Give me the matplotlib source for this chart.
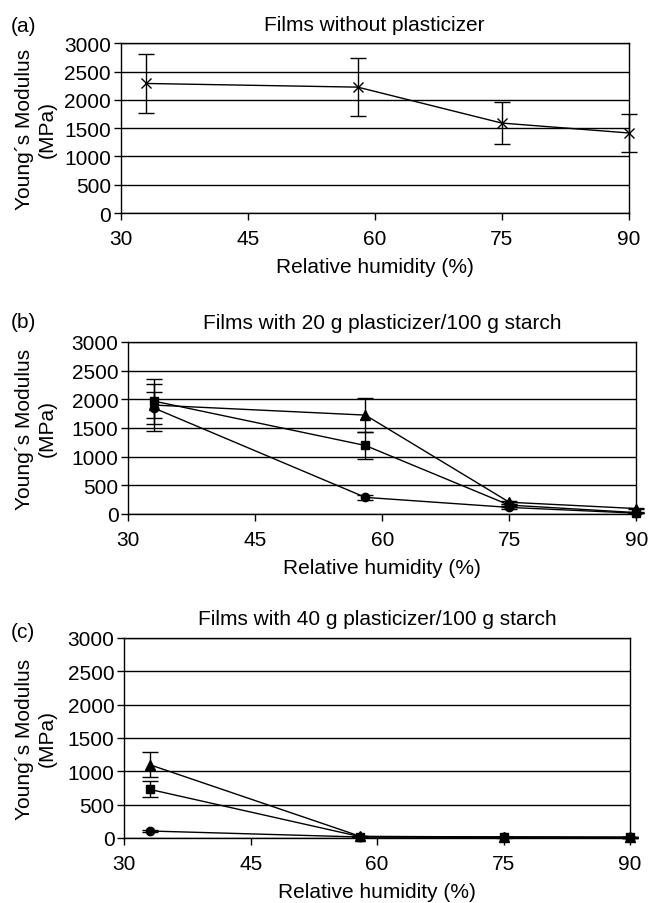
import matplotlib
matplotlib.use('Agg')
import matplotlib.pyplot as plt

plt.rcParams['font.family'] = ['Liberation Sans', 'DejaVu Sans']

rh = [33, 58, 75, 90]
xticks = [30, 45, 60, 75, 90]
yticks = [0, 500, 1000, 1500, 2000, 2500, 3000]

# (a) films without plasticizer
a_val = [2290, 2225, 1590, 1415]
a_err = [525, 515, 370, 330]

# (b) 20 g plasticizer / 100 g starch
b_circle = [1850, 290, 115, 15]
b_circle_err = [280, 45, 20, 5]
b_square = [1970, 1195, 155, 25]
b_square_err = [290, 240, 25, 5]
b_triangle = [1900, 1725, 205, 95]
b_triangle_err = [460, 300, 30, 10]

# (c) 40 g plasticizer / 100 g starch
c_circle = [105, 15, 10, 10]
c_circle_err = [15, 5, 5, 5]
c_square = [730, 20, 15, 10]
c_square_err = [120, 5, 5, 5]
c_triangle = [1100, 25, 15, 10]
c_triangle_err = [190, 5, 5, 5]

W, H = 650, 904
FS = 15
fig = plt.figure(figsize=(W / 100, H / 100), dpi=100)


def make_axes(l, r, t, b):
    return fig.add_axes([l / W, 1 - b / H, (r - l) / W, (b - t) / H])


def style(ax, title, ttl_y, ylab_x):
    ax.set_xlim(30, 90)
    ax.set_ylim(0, 3000)
    ax.set_xticks(xticks)
    ax.set_yticks(yticks)
    ax.yaxis.grid(True, color='black', linewidth=1)
    ax.set_axisbelow(True)
    for s in ax.spines.values():
        s.set_linewidth(1)
        s.set_color('black')
    ax.tick_params(axis='both', direction='out', length=5, width=1,
                   labelsize=FS)
    ax.tick_params(axis='x', pad=6.3)
    ax.tick_params(axis='y', pad=2)
    ax.set_xlabel('Relative humidity (%)', fontsize=FS, labelpad=6.5)
    ax.text(0.5, ttl_y, title, transform=ax.transAxes, ha='center',
            va='center', fontsize=FS)
    ax.text(ylab_x, 0.5, 'Young\u00b4s Modulus\n(MPa)', transform=ax.transAxes,
            rotation=90, ha='center', va='center', multialignment='center',
            fontsize=FS, linespacing=1.2)


def series(ax, y, err, marker, ms):
    ax.errorbar(rh, y, yerr=err, color='black', linewidth=1, marker=marker,
                markersize=ms, mew=1, ecolor='black', elinewidth=1,
                capsize=6, capthick=1, zorder=3, clip_on=False)


ax1 = make_axes(120.7, 628.7, 44.3, 214)
style(ax1, 'Films without plasticizer', 1.112, -0.167)
series(ax1, a_val, a_err, 'x', 7)

ax2 = make_axes(128.3, 636.3, 343, 515)
style(ax2, 'Films with 20 g plasticizer/100 g starch', 1.116, -0.182)
series(ax2, b_circle, b_circle_err, 'o', 6)
series(ax2, b_square, b_square_err, 's', 6)
series(ax2, b_triangle, b_triangle_err, '^', 7)

ax3 = make_axes(124.3, 630, 639, 839)
style(ax3, 'Films with 40 g plasticizer/100 g starch', 1.095, -0.175)
series(ax3, c_circle, c_circle_err, 'o', 6)
series(ax3, c_square, c_square_err, 's', 6)
series(ax3, c_triangle, c_triangle_err, '^', 7)

fig.text(23 / W, 1 - 26 / H, '(a)', ha='center', va='center', fontsize=FS)
fig.text(23 / W, 1 - 323 / H, '(b)', ha='center', va='center', fontsize=FS)
fig.text(23 / W, 1 - 633 / H, '(c)', ha='center', va='center', fontsize=FS)

fig.savefig('out.png', dpi=100)
